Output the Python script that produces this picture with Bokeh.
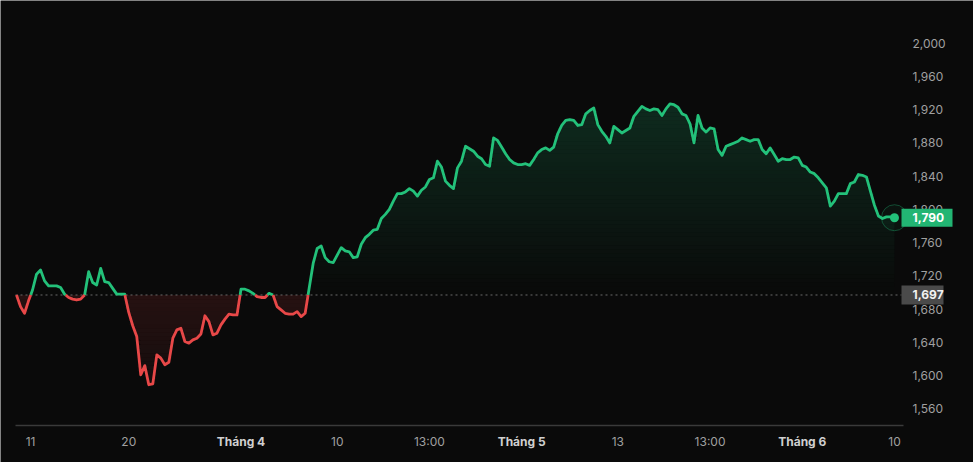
import numpy as np
from bokeh.plotting import figure
from bokeh.models import Range1d
from bokeh.core.properties import value
from bokeh.embed import file_html
from bokeh.resources import INLINE

# ---------------- data ----------------
prices = [
    1697, 1683, 1675, 1690, 1703, 1722, 1727, 1714, 1708, 1708,
    1708, 1706, 1698, 1694, 1692, 1691, 1692, 1697, 1725, 1712,
    1709, 1729, 1713, 1712, 1705, 1698, 1698, 1698, 1676, 1660,
    1647, 1601, 1612, 1589, 1590, 1625, 1621, 1613, 1616, 1645,
    1655, 1657, 1641, 1639, 1643, 1645, 1650, 1672, 1665, 1649,
    1651, 1661, 1668, 1674, 1673, 1673, 1704, 1704, 1702, 1699,
    1695, 1694, 1694, 1699, 1697, 1683, 1679, 1675, 1674, 1674,
    1677, 1671, 1675, 1705, 1735, 1753, 1756, 1742, 1737, 1736,
    1745, 1754, 1750, 1749, 1742, 1743, 1758, 1766, 1770, 1775,
    1776, 1789, 1794, 1800, 1810, 1819, 1819, 1821, 1825, 1822,
    1816, 1823, 1827, 1836, 1838, 1858, 1851, 1834, 1829, 1825,
    1850, 1858, 1876, 1873, 1870, 1864, 1861, 1854, 1852, 1886,
    1883, 1875, 1867, 1860, 1856, 1854, 1854, 1855, 1853, 1860,
    1868, 1872, 1874, 1871, 1875, 1891, 1901, 1907, 1908, 1907,
    1901, 1902, 1915, 1919, 1922, 1902, 1894, 1888, 1880, 1900,
    1896, 1892, 1895, 1898, 1912, 1918, 1924, 1921, 1919, 1921,
    1920, 1913, 1921, 1927, 1926, 1923, 1915, 1913, 1903, 1880,
    1913, 1898, 1893, 1898, 1897, 1872, 1865, 1876, 1878, 1880,
    1882, 1886, 1884, 1882, 1884, 1884, 1872, 1867, 1874, 1866,
    1858, 1861, 1860, 1860, 1863, 1862, 1853, 1851, 1845, 1843,
    1838, 1832, 1826, 1804, 1810, 1819, 1819, 1819, 1831, 1833,
    1842, 1841, 1839, 1822, 1805, 1792, 1789, 1791, 1791, 1790,
]
base_price = 1697
last_price = 1790

y_ticks = [1560, 1600, 1640, 1680, 1720, 1760, 1800, 1840, 1880, 1920, 1960, 2000]
x_tick_pos = [3.5, 28, 56, 80, 103, 126, 150, 173, 196, 219]
x_tick_labels = ["11", "20", "Tháng 4", "10", "13:00", "Tháng 5", "13", "13:00", "Tháng 6", "10"]
x_tick_bold = [False, False, True, False, False, True, False, False, True, False]

# ---------------- style ----------------
BG = "#0a0a0a"
GREEN = "#23c17a"
GREEN_BOX = "#22b573"
RED = "#e84848"
FONT = "Inter"

W, H = 973, 462
# chart area geometry (pixels): first point at px 16, step ~4.01 px, price scale 0.831 px/unit
PX0, STEP = 16.0, 4.009
PY_TOP_PRICE, PY_TOP = 2000.0, 42.7
PX_PER_UNIT = 0.831


def kx(px):
    return (px - PX0) / STEP


def vy(py):
    return PY_TOP_PRICE - (py - PY_TOP) / PX_PER_UNIT


x = np.arange(len(prices), dtype=float)
y = np.array(prices, dtype=float)

# insert baseline crossing points so colours split exactly at the baseline
xs, ys = [x[0]], [y[0]]
for i in range(1, len(y)):
    a, b = y[i - 1] - base_price, y[i] - base_price
    if a * b < 0:
        t = a / (a - b)
        xs.append(x[i - 1] + t)
        ys.append(base_price)
    xs.append(x[i])
    ys.append(y[i])
xs = np.array(xs)
ys = np.array(ys)
g_line = np.where(ys >= base_price, ys, np.nan)
r_line = np.where(ys <= base_price, ys, np.nan)

p = figure(
    width=W, height=H,
    x_range=Range1d(kx(0), kx(W)), y_range=Range1d(vy(H), vy(0)),
    output_backend="svg", toolbar_location=None,
    min_border=0, min_border_left=0, min_border_right=0, min_border_top=0, min_border_bottom=0,
    background_fill_color=BG, border_fill_color=BG,
)
p.outline_line_color = None
p.outline_line_alpha = 0
p.axis.visible = False
p.grid.visible = False
p.xaxis.visible = False
p.yaxis.visible = False

# gradient fills made of thin horizontal bands
band = 5.0
lo = float(base_price)
while lo < 2040:
    hi = lo + band
    top = np.clip(ys, lo, hi)
    a = min(0.22, 0.16 * ((lo + band / 2 - base_price) / (1900 - base_price)))
    p.varea(x=xs, y1=np.full_like(xs, lo), y2=top, fill_color=GREEN, fill_alpha=max(a, 0.0))
    lo = hi
hi = float(base_price)
while hi > 1540:
    lo = hi - band
    bot = np.clip(ys, lo, hi)
    a = 0.13 - 0.08 * ((base_price - (hi - band / 2)) / (base_price - 1590))
    p.varea(x=xs, y1=bot, y2=np.full_like(xs, hi), fill_color=RED, fill_alpha=max(a, 0.03))
    hi = lo

# dotted baseline across the chart area
p.segment(x0=[kx(15)], y0=[base_price], x1=[kx(901)], y1=[base_price],
          line_color="#6a6a6a", line_dash="2 3", line_width=1)

# bottom axis line
p.segment(x0=[kx(15)], y0=[vy(425)], x1=[kx(903)], y1=[vy(425)],
          line_color="#3a3a3a", line_width=1.5)

p.line(xs, g_line, line_color=GREEN, line_width=2.8, line_join="round")
p.line(xs, r_line, line_color=RED, line_width=2.8, line_join="round")

p.scatter([x[-1]], [last_price], size=26, fill_color=GREEN, fill_alpha=0.05,
          line_color=GREEN, line_alpha=0.35, line_width=1)
p.scatter([x[-1]], [last_price], size=9, fill_color=GREEN, line_color=None)

# right price scale
p.text(x=[kx(912)] * len(y_ticks), y=y_ticks, text=[f"{t:,}" for t in y_ticks],
       text_align="left", text_baseline="middle", text_color="#a0a0a0",
       text_font=value(FONT), text_font_size="12px")

# bottom time scale
ty = vy(441)
norm = [(pp, t) for pp, t, b in zip(x_tick_pos, x_tick_labels, x_tick_bold) if not b]
bold = [(pp, t) for pp, t, b in zip(x_tick_pos, x_tick_labels, x_tick_bold) if b]
p.text(x=[q[0] for q in norm], y=[ty] * len(norm), text=[q[1] for q in norm],
       text_align="center", text_baseline="middle", text_color="#a0a0a0",
       text_font=value(FONT), text_font_size="12px")
p.text(x=[q[0] for q in bold], y=[ty] * len(bold), text=[q[1] for q in bold],
       text_align="center", text_baseline="middle", text_color="#d0d0d0",
       text_font=value(FONT), text_font_size="12px", text_font_style="bold")

# price boxes
p.rect(x=[kx(926.5)], y=[last_price], width=51, height=18, width_units="screen",
       height_units="screen", fill_color=GREEN_BOX, line_color=None)
p.rect(x=[kx(922)], y=[base_price], width=42, height=19, width_units="screen",
       height_units="screen", fill_color="#4a4a4a", line_color=None)
p.text(x=[kx(912)], y=[last_price], text=[f"{last_price:,}"], text_align="left",
       text_baseline="middle", text_color="#ffffff", text_font=value(FONT),
       text_font_size="12px", text_font_style="bold")
p.text(x=[kx(912)], y=[base_price], text=[f"{base_price:,}"], text_align="left",
       text_baseline="middle", text_color="#f2f2f2", text_font=value(FONT),
       text_font_size="12px", text_font_style="bold")

open("out.html", "w").write(file_html(p, INLINE))
